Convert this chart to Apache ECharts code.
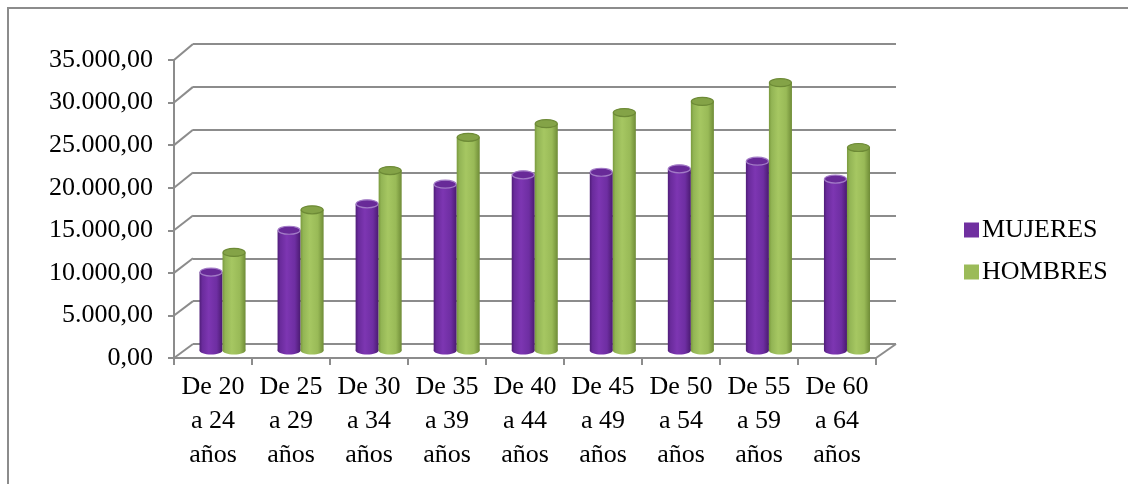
<!DOCTYPE html>
<html>
<head>
<meta charset="utf-8">
<script src="https://cdn.jsdelivr.net/npm/echarts@6/dist/echarts.min.js"></script>
<style>
  html, body { margin: 0; padding: 0; background: #ffffff; }
  #chart { width: 1128px; height: 484px; }
</style>
</head>
<body>
<div id="chart"></div>
<script>
// Salario medio anual por tramo de edad y sexo
const categories = [
  'De 20\na 24\naños', 'De 25\na 29\naños', 'De 30\na 34\naños',
  'De 35\na 39\naños', 'De 40\na 44\naños', 'De 45\na 49\naños',
  'De 50\na 54\naños', 'De 55\na 59\naños', 'De 60\na 64\naños'
];
const mujeres = [9200, 14100, 17200, 19500, 20600, 20900, 21300, 22200, 20100];
const hombres = [11500, 16500, 21100, 25000, 26600, 27900, 29200, 31400, 23800];
const yTicks = [0, 5000, 10000, 15000, 20000, 25000, 30000, 35000];

const W = 1128, H = 484;
const FONT = '"Liberation Serif", "Times New Roman", serif';
const LINE = '#8c8c8c';

// Three planes of the pseudo‑3D box: back wall, front edge, and the bar plane in between
const BACK  = { left: 193, right: W - 896, top: 44, bottom: H - 344 };
const FRONT = { left: 174, right: W - 876, top: 60, bottom: H - 358 };
const MID   = { left: 183.5, right: W - 886, top: 52, bottom: H - 350.5 };

const yMin = yTicks[0], yMax = yTicks[yTicks.length - 1], yStep = yTicks[1] - yTicks[0];

function fmt(v) {
  const s = Math.round(v).toString().replace(/\B(?=(\d{3})+(?!\d))/g, '.');
  return s + ',00';
}

function cylinder(side, sideStops, topFill, rim) {
  return function (params, api) {
    const cat = api.value(0), v = api.value(1);
    const top = api.coord([cat, v]);
    const base = api.coord([cat, 0]);
    const w = api.size([1, 0])[0] * 0.295;
    const cx = top[0] + side * w / 2;
    const rx = w / 2, ry = 4;
    const grad = () => new echarts.graphic.LinearGradient(0, 0, 1, 0,
      sideStops.map(s => ({ offset: s[0], color: s[1] })));
    return {
      type: 'group',
      children: [
        { type: 'ellipse', shape: { cx: cx, cy: base[1], rx: rx, ry: ry }, style: { fill: grad() } },
        { type: 'rect', shape: { x: cx - rx, y: top[1], width: w, height: base[1] - top[1] }, style: { fill: grad() } },
        { type: 'ellipse', shape: { cx: cx, cy: top[1], rx: rx - 0.5, ry: ry }, style: { fill: topFill, stroke: rim, lineWidth: 1.2 } }
      ]
    };
  };
}

const purpleStops = [[0, '#4f1d78'], [0.12, '#6a2b9c'], [0.4, '#7d36b2'], [0.75, '#6e2ea2'], [1, '#4a1a70']];
const greenStops  = [[0, '#7a9a3e'], [0.12, '#93b555'], [0.4, '#a6c762'], [0.75, '#99ba57'], [1, '#6f8c37']];

const chart = echarts.init(document.getElementById('chart'), null, { renderer: 'canvas' });

chart.setOption({
  animation: false,
  backgroundColor: '#ffffff',
  legend: {
    orient: 'vertical',
    left: 959,
    top: 212,
    itemWidth: 15,
    itemHeight: 15,
    itemGap: 16,
    icon: 'rect',
    textStyle: { fontFamily: FONT, fontSize: 26, color: '#000000', lineHeight: 26, padding: [0, 0, 0, -2] },
    data: ['MUJERES', 'HOMBRES']
  },
  grid: [
    Object.assign({ containLabel: false }, BACK),
    Object.assign({ containLabel: false }, FRONT),
    Object.assign({ containLabel: false }, MID)
  ],
  xAxis: [
    { gridIndex: 0, type: 'category', data: categories, show: false },
    {
      gridIndex: 1, type: 'category', data: categories,
      axisLine: { show: true, lineStyle: { color: LINE, width: 2 } },
      axisTick: { show: true, interval: 0, length: 7, lineStyle: { color: LINE, width: 2 } },
      axisLabel: {
        interval: 0, margin: 12, fontFamily: FONT, fontSize: 26, color: '#000000', lineHeight: 34
      },
      splitLine: { show: false }
    },
    { gridIndex: 2, type: 'category', data: categories, show: false }
  ],
  yAxis: [
    {
      gridIndex: 0, type: 'value', min: yMin, max: yMax, interval: yStep,
      axisLine: { show: false }, axisTick: { show: false }, axisLabel: { show: false },
      splitLine: { show: true, lineStyle: { color: LINE, width: 2 } }
    },
    {
      gridIndex: 1, type: 'value', min: yMin, max: yMax, interval: yStep,
      axisLine: { show: true, lineStyle: { color: LINE, width: 2 } },
      axisTick: { show: true, length: 6, lineStyle: { color: LINE, width: 2 } },
      axisLabel: { margin: 21, fontFamily: FONT, fontSize: 26, color: '#000000', formatter: fmt, padding: [3, 0, 0, 0] },
      splitLine: { show: false }
    },
    { gridIndex: 2, type: 'value', min: yMin, max: yMax, interval: yStep, show: false, splitLine: { show: false } }
  ],
  series: [
    {
      name: 'MUJERES', type: 'custom', xAxisIndex: 2, yAxisIndex: 2,
      itemStyle: { color: '#7030a0' },
      renderItem: cylinder(-1, purpleStops, '#682a98', '#a27bc6'),
      data: mujeres.map((v, i) => [i, v]),
      z: 3
    },
    {
      name: 'HOMBRES', type: 'custom', xAxisIndex: 2, yAxisIndex: 2,
      itemStyle: { color: '#9bbb59' },
      renderItem: cylinder(1, greenStops, '#84a347', '#6d8a36'),
      data: hombres.map((v, i) => [i, v]),
      z: 3
    }
  ]
});

// Side wall and floor edges joining the front axis to the back wall
const edges = [];
yTicks.forEach(v => {
  const yf = chart.convertToPixel({ yAxisIndex: 1 }, v);
  const yb = chart.convertToPixel({ yAxisIndex: 0 }, v);
  edges.push({ type: 'line', shape: { x1: FRONT.left, y1: yf, x2: BACK.left, y2: yb },
    style: { stroke: LINE, lineWidth: 2 }, z: 1 });
});
{
  const yf = chart.convertToPixel({ yAxisIndex: 1 }, yMin);
  const yb = chart.convertToPixel({ yAxisIndex: 0 }, yMin);
  edges.push({ type: 'line', shape: { x1: W - FRONT.right, y1: yf, x2: W - BACK.right, y2: yb },
    style: { stroke: LINE, lineWidth: 2 }, z: 1 });
}
// Chart area frame (top and left edges)
edges.push({ type: 'line', shape: { x1: 7, y1: 8, x2: W, y2: 8 }, style: { stroke: LINE, lineWidth: 2 } });
edges.push({ type: 'line', shape: { x1: 8, y1: 7, x2: 8, y2: H }, style: { stroke: LINE, lineWidth: 2 } });

chart.setOption({ graphic: edges });
</script>
</body>
</html>
